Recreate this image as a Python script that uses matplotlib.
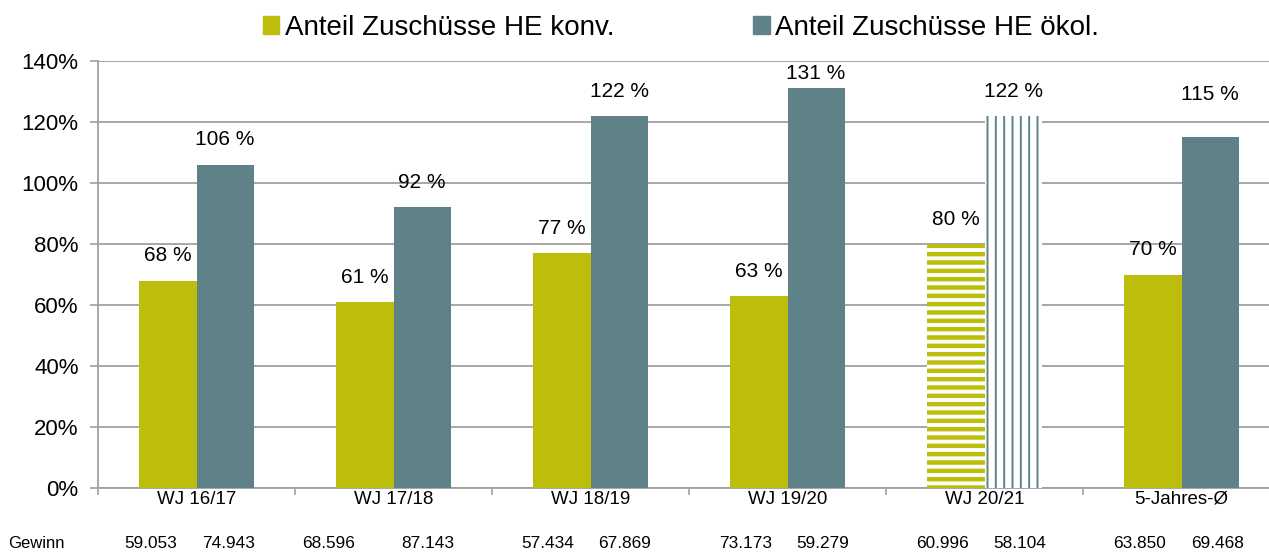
import numpy as np
import matplotlib.pyplot as plt
import matplotlib.transforms as mtransforms
from matplotlib.patches import Patch

plt.rcParams['font.family'] = ['Liberation Sans', 'DejaVu Sans']

# Data
categories = ['WJ 16/17', 'WJ 17/18', 'WJ 18/19', 'WJ 19/20', 'WJ 20/21', '5-Jahres-Ø']
konv = [68, 61, 77, 63, 80, 70]
oekol = [106, 92, 122, 131, 122, 115]
gewinn_konv = ['59.053', '68.596', '57.434', '73.173', '60.996', '63.850']
gewinn_oekol = ['74.943', '87.143', '67.869', '59.279', '58.104', '69.468']
hatched = [False, False, False, False, True, False]  # preliminary year

c_konv = '#bdbe0b'
c_oekol = '#5f8289'
c_grid = '#a0a0a0'

# horizontal placement of the Gewinn numbers relative to category centre
row_off_konv = [-0.234, -0.33, -0.218, -0.213, -0.213, -0.213]
row_off_oekol = [0.162, 0.173, 0.173, 0.178, 0.178, 0.183]

fig = plt.figure(figsize=(12.69, 5.52), dpi=100)
ax = fig.add_axes([98 / 1269, 64 / 552, 6 * 197 / 1269, 427 / 552])

x = np.arange(len(categories))
w = 0.29

for i in range(len(categories)):
    if hatched[i]:
        ax.bar(x[i] - w / 2, konv[i], w, facecolor='white', edgecolor=c_konv,
               linewidth=0, hatch='--', hatch_linewidth=3.2, zorder=3)
        ax.bar(x[i] + w / 2, oekol[i], w, facecolor='white', edgecolor=c_oekol,
               linewidth=0, hatch='||', hatch_linewidth=1.4, zorder=3)
    else:
        ax.bar(x[i] - w / 2, konv[i], w, color=c_konv, zorder=3)
        ax.bar(x[i] + w / 2, oekol[i], w, color=c_oekol, zorder=3)

# value labels (label of the tallest bar is pushed down inside the plot area)
extra_off = {'WJ 19/20': -7, '5-Jahres-Ø': 13}
for i in range(len(categories)):
    ax.annotate(f'{konv[i]} %', (x[i] - w / 2, konv[i]), xytext=(0, 11),
                textcoords='offset points', ha='center', va='bottom', fontsize=15)
    off = 11 + extra_off.get(categories[i], 0)
    ax.annotate(f'{oekol[i]} %', (x[i] + w / 2, oekol[i]), xytext=(0, off),
                textcoords='offset points', ha='center', va='bottom', fontsize=15)

ax.set_xlim(-0.5, len(categories) - 0.5)
ax.set_ylim(0, 140)
ax.set_yticks(np.arange(0, 141, 20))
ax.set_yticklabels([f'{v}%' for v in range(0, 141, 20)], fontsize=16)
ax.set_xticks(np.arange(-0.5, len(categories), 1))
ax.set_xticklabels([])
ax.set_xticks(x, minor=True)
ax.set_xticklabels(categories, minor=True, fontsize=13.5)
ax.tick_params(axis='x', which='major', length=5, color=c_grid, width=1.2)
ax.tick_params(axis='x', which='minor', length=0, pad=2)
ax.tick_params(axis='y', length=6, color=c_grid, width=1.2, pad=8)

ax.grid(axis='y', color=c_grid, linewidth=1.3, zorder=0)
ax.set_axisbelow(True)
for s in ['top', 'right']:
    ax.spines[s].set_visible(False)
for s in ['left', 'bottom']:
    ax.spines[s].set_color(c_grid)
    ax.spines[s].set_linewidth(1.3)

# Gewinn row
row = mtransforms.blended_transform_factory(ax.transData, fig.transFigure)
row_y = 1 - 543 / 552
fig.text(8 / 1269, row_y, 'Gewinn', fontsize=12, ha='left', va='center')
for i in range(len(categories)):
    ax.text(x[i] + row_off_konv[i], row_y, gewinn_konv[i], fontsize=12.4, ha='center',
            va='center', transform=row, clip_on=False)
    ax.text(x[i] + row_off_oekol[i], row_y, gewinn_oekol[i], fontsize=12.4, ha='center',
            va='center', transform=row, clip_on=False)

handles = [Patch(color=c_konv, label='Anteil Zuschüsse HE konv.'),
           Patch(color=c_oekol, label='Anteil Zuschüsse HE ökol.')]
fig.legend(handles=handles, loc='center', bbox_to_anchor=(681 / 1269, 1 - 28 / 552), ncol=2,
           frameon=False, fontsize=20, handlelength=0.6, handleheight=0.6,
           handletextpad=0.2, columnspacing=5.0, borderpad=0, borderaxespad=0)

plt.savefig('out.png', dpi=100)
